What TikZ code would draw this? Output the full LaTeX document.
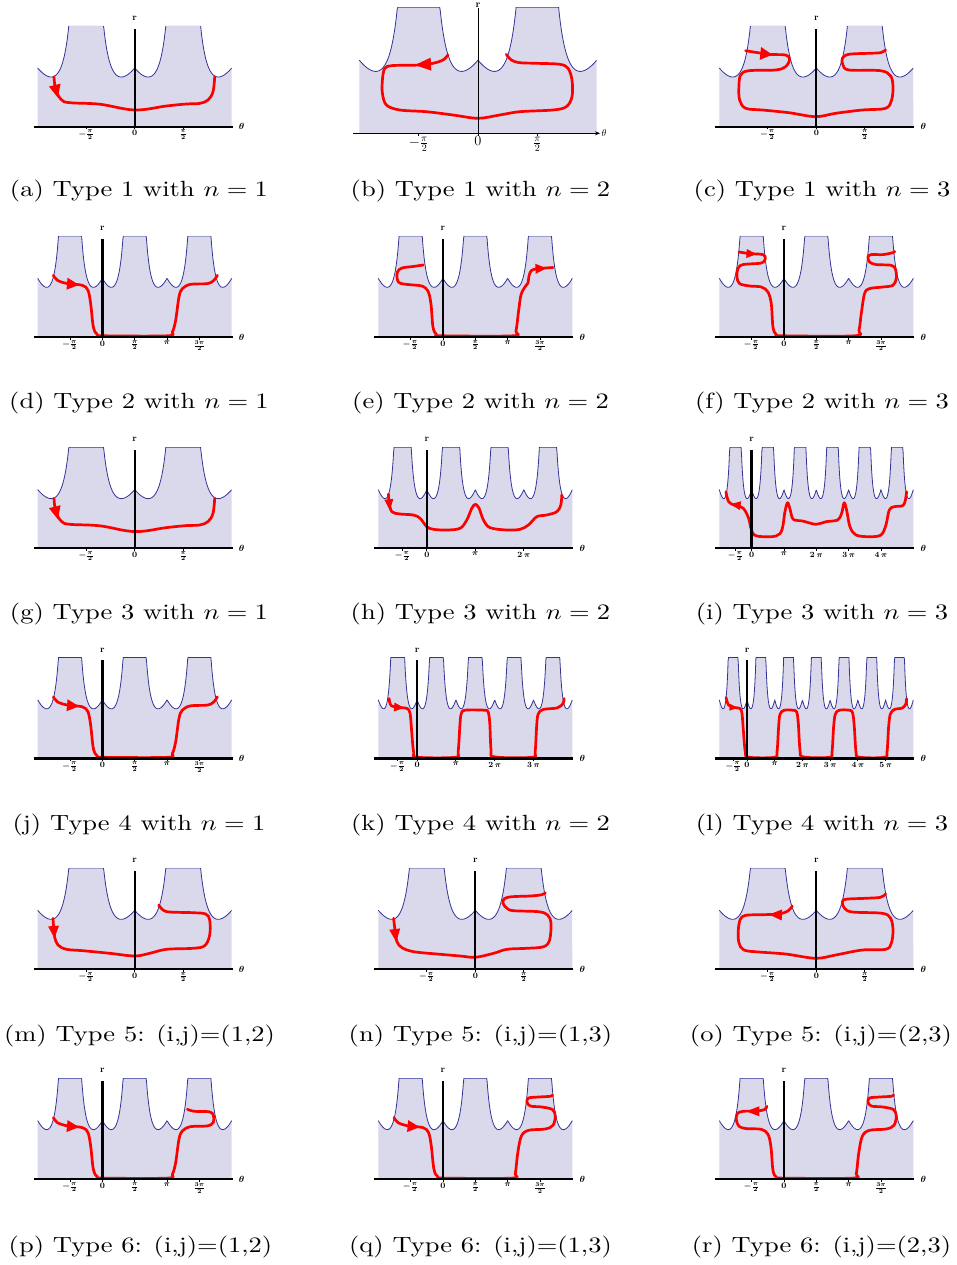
\documentclass[tikz,border=0pt]{standalone}
\usepackage{amsmath}
\usepackage{graphicx}
\usetikzlibrary{arrows.meta}

\definecolor{wellfill}{RGB}{217,217,235}
\definecolor{potblue}{RGB}{52,52,150}
\definecolor{orbitred}{RGB}{255,0,0}

\tikzset{
  declare function={pot(\t)=58.7-36.3*abs(sin(\t r))+29.1*(sin(\t r))^2/max((cos(\t r))^2,0.02);},
  potline/.style={draw=potblue, line width=0.8pt},
  axisline/.style={draw=black, line width=2.3pt},
  thinaxis/.style={draw=black, line width=0.7pt},
  tickline/.style={draw=black, line width=0.9pt},
  orbitline/.style={draw=orbitred, line width=2.7pt, line cap=round, line join=round},
  ticklab/.style={font=\fontsize{8.3}{9}\selectfont\bfseries\boldmath, inner sep=0pt, anchor=north},
  axlab/.style={font=\fontsize{9.5}{10}\selectfont\bfseries\boldmath, inner sep=0pt},
  biglab/.style={font=\fontsize{14}{15}\selectfont, inner sep=0pt},
  caption/.style={font=\fontsize{10}{12}\selectfont, inner sep=0pt, anchor=base},
}
\newcommand\capt[1]{\scalebox{2.65}[2.2]{#1}}

% panel geometry: left edge, axis height, periods N (theta in [-pi, N pi]), width, height scale
\newcommand\setpanel[5]{%
  \pgfmathsetmacro\sx{#4/((#3+1)*pi)}%
  \pgfmathsetmacro\ox{#1+pi*\sx}%
  \pgfmathsetmacro\hk{#5}%
  \pgfmathsetmacro\ctop{#5*pot(1.008)}%
  \pgfmathsetmacro\tmin{-pi}%
  \pgfmathsetmacro\tmax{#3*pi}%
  \def\oy{#2}%
}
% shaded allowed region under the potential, and the potential itself
\newcommand\wells{%
  \begin{scope}[shift={(\ox,-\oy)}]
    \fill[wellfill] plot[domain=\tmin:\tmax, samples=420] ({\x*\sx},{min(\hk*pot(\x),\ctop)})
      -- ({\tmax*\sx},0) -- ({\tmin*\sx},0) -- cycle;
    \begin{scope}
      \clip ({\tmin*\sx-1},-1) rectangle ({\tmax*\sx+1},{\ctop-0.5});
      \draw[potline] plot[domain=\tmin:\tmax, samples=420] ({\x*\sx},{min(\hk*pot(\x),\ctop)});
    \end{scope}
  \end{scope}}
% bold axes with small tick labels; ticks given in units of pi/2
\newcommand\stdaxes[1]{%
  \begin{scope}[shift={(\ox,-\oy)}]
    \draw[axisline] ({\tmin*\sx-4},0) -- ({\tmax*\sx+1},0);
    \draw[axisline] (0,0) -- (0,{\ctop-3});
    \foreach \p/\l in {#1} {
      \draw[tickline] ({\p*pi/2*\sx},0) -- ({\p*pi/2*\sx},-2.6);
      \node[ticklab] at ({\p*pi/2*\sx},-3.4) {\l};
    }
    \node[axlab] at (0,{\ctop+7.5}) {r};
    \node[axlab] at ({\tmax*\sx+10},0) {$\theta$};
  \end{scope}}
\newcommand\orbit[1]{\begin{scope}[shift={(\ox,-\oy)}]#1\end{scope}}
% arrow head: tip x, tip y, direction, length, width
\newcommand\tip[5]{\fill[orbitred, shift={(#1,#2)}, rotate=#3] (0,0) -- (-#4,{#5/2}) -- (-#4,{-#5/2}) -- cycle;}

\def\lmh{$-\frac{\pi}{2}$}
\def\lph{$\frac{\pi}{2}$}
\def\ltph{$\frac{3\pi}{2}$}
\def\lp{$\pi$}
\def\ltwo{$2\,\pi$}
\def\lthree{$3\,\pi$}
\def\lfour{$4\,\pi$}
\def\lfive{$5\,\pi$}

\begin{document}
\begin{tikzpicture}[x=1pt,y=1pt]
\useasboundingbox (0,0) rectangle (956,-1265);
\fill[white] (0,0) rectangle (956,-1265);

% ---------- (a) ----------
\setpanel{37.7}{126.7}{1}{194}{1}
\wells
\orbit{
  \draw[orbitline] plot[smooth,tension=0.6] coordinates {(-80.7,50) (-79,37) (-73.3,27) (-65,24) (-35,22.5) (0,16.7) (31.7,20.7) (51.7,22.7) (65,23.3) (73.3,26.7) (78.3,35) (80,50)};
  \tip{-76.8}{29}{-76}{13}{12}
}
\stdaxes{-1/\lmh, 0/0, 1/\lph}

% ---------- (b) ----------
\setpanel{359.3}{133.3}{1}{237.4}{1.246}
\wells
\orbit{
  \draw[orbitline] plot[smooth,tension=0.55] coordinates {(-30,78.3) (-35,73.3) (-45,70) (-58.3,68.3) (-75,68) (-86.6,67.6) (-93.3,65) (-95.6,53.3) (-95.6,40) (-91.6,28.3) (-78.3,23.3) (-51.6,21.6) (-25,18.3) (0,15) (21.7,18.3) (41.7,21.6) (75,23.3) (88.3,26.6) (94,36.6) (94,53.3) (90,65) (81.7,69) (58.3,70) (41.7,70.6) (33.3,73.3) (28.3,79)};
  \tip{-63}{68.3}{183}{16}{13}
  \draw[thinaxis, -{Stealth[length=5pt,width=4pt]}] (-125,0) -- (122,0);
  \draw[thinaxis] (0,0) -- (0,125);
  \foreach \p/\l in {-59.35/{$-\frac{\pi}{2}$}, 0/{$0$}, 59.35/{$\frac{\pi}{2}$}} {
    \draw[thinaxis] (\p,0) -- (\p,-2.5);
    \node[biglab, anchor=north] at (\p,-3.2) {\l};
  }
  \node[font=\fontsize{10}{11}\selectfont\bfseries, inner sep=0pt] at (0,128.5) {r};
  \node[font=\fontsize{10}{11}\selectfont, inner sep=0pt] at (126,0) {$\theta$};
}

% ---------- (c) ----------
\setpanel{719.3}{126.7}{1}{194}{1}
\wells
\orbit{
  \draw[orbitline] plot[smooth,tension=0.55] coordinates {(-70.7,76) (-47.4,72.4) (-30.7,71.7) (-26.7,67.4) (-30.7,60) (-40.7,56.7) (-67.4,56) (-75.7,51.7) (-77.4,40) (-76.7,26.7) (-70.7,18.4) (-54,16.7) (-27.4,14) (-0.7,10) (19.3,13.4) (46,16.7) (69.3,18.4) (75.3,26.7) (76.7,40) (74.3,50.7) (64.3,56) (32.6,56.7) (26.7,61.7) (26,68.4) (32.6,72.4) (52.7,73.4) (64.3,74) (69.3,76.7)};
  \tip{-44}{72}{-6}{12}{13}
}
\stdaxes{-1/\lmh, 0/0, 1/\lph}

% ---------- (d) ----------
\setpanel{37.7}{337}{2}{194}{1}
\wells
\orbit{
  \draw[orbitline] plot[smooth,tension=0.55] coordinates {(-49,61.7) (-45,56.7) (-35,53.4) (-20,51.7) (-14.4,46.7) (-11.7,33.4) (-9,10) (-5,2.4) (1.6,1.2) (65,1.2) (70,5) (73.3,16.7) (76.6,40) (80,48.4) (88.3,52.7) (105,53.4) (111.6,56.7) (115,61.7)};
  \tip{-23.4}{52.2}{-5}{12}{12}
}
\stdaxes{-1/\lmh, 0/0, 1/\lph, 2/\lp, 3/\ltph}

% ---------- (e) ----------
\setpanel{378.3}{337}{2}{194}{1}
\wells
\orbit{
  \draw[orbitline] plot[smooth,tension=0.55] coordinates {(-19.6,72) (-30,70.5) (-41,69) (-45.5,65) (-45.5,57) (-42,53.5) (-30,52) (-21,51) (-15,46) (-12,33) (-10,10) (-6.5,2.4) (-1,1.2) (70,1.2) (73,6) (75.5,25) (78,42) (82,50) (85,54) (86,61) (88.5,66.5) (95,68.3) (110,69.5)};
  \tip{103.5}{68.8}{3}{11}{10}
}
\stdaxes{-1/\lmh, 0/0, 1/\lph, 2/\lp, 3/\ltph}

% ---------- (f) ----------
\setpanel{719.3}{337}{2}{194}{1}
\wells
\orbit{
  \draw[orbitline] plot[smooth,tension=0.55] coordinates {(-45,85) (-34.4,83.4) (-21,82.4) (-18.7,78.4) (-22.7,74) (-41,72.4) (-46,68.4) (-47,60) (-44.4,53.4) (-34.4,51) (-22.7,50) (-16,45) (-12.7,33.4) (-11,10) (-7.7,2.4) (-1,1.2) (70.6,1.2) (75,6.7) (77.3,23.4) (80.6,43.4) (85.6,48.4) (99,50) (109,51.7) (112.3,58.4) (111.6,67.4) (107.3,71.7) (92.3,72.4) (85.6,75) (84,80) (87.3,82.4) (99,82.4) (109,84.4) (110.6,85.7)};
  \tip{-27.5}{82.8}{-4}{10}{9}
}
\stdaxes{-1/\lmh, 0/0, 1/\lph, 2/\lp, 3/\ltph}

% ---------- (g) ----------
\setpanel{37.7}{548.3}{1}{194}{1}
\wells
\orbit{
  \draw[orbitline] plot[smooth,tension=0.6] coordinates {(-80.7,50) (-79,37) (-73.3,27) (-65,24) (-35,22.5) (0,16.7) (31.7,20.7) (51.7,22.7) (65,23.3) (73.3,26.7) (78.3,35) (80,50)};
  \tip{-76.8}{29}{-76}{13}{12}
}
\stdaxes{-1/\lmh, 0/0, 1/\lph}

% ---------- (h) ----------
\setpanel{378.3}{548.3}{3}{194}{1}
\wells
\orbit{
  \draw[orbitline] plot[smooth,tension=0.55] coordinates {(-38.4,54.3) (-37.7,46.6) (-35,36.6) (-26.7,34.3) (-13.4,33.3) (-6.7,30) (0,21.6) (6.6,19) (20,18.3) (33.3,20) (40,28.3) (45,40) (48.6,44) (52.3,40) (56.6,28.3) (63.3,20.6) (80,18.3) (93.3,19) (101.6,23.3) (110,31.6) (120,33.3) (130,36.6) (134,43.3) (135,53.3)};
  \tip{-37}{38}{-85}{11}{9}
}
\stdaxes{-1/\lmh, 0/0, 2/\lp, 4/\ltwo}

% ---------- (i) ----------
\setpanel{719.3}{548.3}{5}{194}{1}
\wells
\orbit{
  \draw[orbitline] plot[smooth,tension=0.55] coordinates {(-25.7,56.6) (-23,46.6) (-17.4,43.3) (-8.4,40) (-3,30) (-0.7,20) (2.6,13.3) (11,11.6) (24.3,12.3) (30.3,18.3) (33.3,36.6) (36,45.6) (38.6,38.3) (41.6,29) (51,27.3) (64.3,24) (74.3,26.6) (86,28.3) (90,35) (92.6,45.6) (95.3,36.6) (98.3,21.6) (104.3,13.3) (117.6,11.6) (129.3,13.3) (134.3,23.3) (137.6,38.3) (142.6,41.6) (151,42.6) (153.6,47.6) (155,56.6)};
  \tip{-21}{44}{172}{10}{9}
}
\stdaxes{-1/\lmh, 0/0, 2/\lp, 4/\ltwo, 6/\lthree, 8/\lfour}

% ---------- (j) ----------
\setpanel{37.7}{758.5}{2}{194}{1}
\wells
\orbit{
  \draw[orbitline] plot[smooth,tension=0.55] coordinates {(-49,61.7) (-45,56.7) (-35,53.4) (-20,51.7) (-14.4,46.7) (-11.7,33.4) (-9,10) (-5,2.4) (1.6,1.2) (65,1.2) (70,5) (73.3,16.7) (76.6,40) (80,48.4) (88.3,52.7) (105,53.4) (111.6,56.7) (115,61.7)};
  \tip{-23.4}{52.2}{-5}{12}{12}
}
\stdaxes{-1/\lmh, 0/0, 1/\lph, 2/\lp, 3/\ltph}

% ---------- (k) ----------
\setpanel{378.3}{758.5}{4}{194}{1}
\wells
\orbit{
  \draw[orbitline] plot[smooth,tension=0.55] coordinates {(-28,60) (-26,53) (-18,51) (-10,50) (-7,45) (-5.5,28) (-3.5,6.6) (0,1.3) (38,1.2) (41,6.6) (42.7,31.6) (44,44.3) (48,48.3) (67,48.3) (71,46.6) (72.7,35) (74,8.3) (77.5,1.6) (115,1.2) (118,6.6) (119.5,31.6) (121,44.3) (126,49) (140,50.6) (146,55) (147,60)};
  \tip{-13}{50.6}{-5}{10}{9}
}
\stdaxes{-1/\lmh, 0/0, 2/\lp, 4/\ltwo, 6/\lthree}

% ---------- (l) ----------
\setpanel{719.3}{758.5}{6}{194}{1}
\wells
\orbit{
  \draw[orbitline] plot[smooth,tension=0.55] coordinates {(-21,61) (-18.3,53.3) (-12.7,51) (-7,50) (-5,45) (-3.7,28.3) (-1.7,6.6) (1.6,1.3) (27.3,1.2) (30,6.6) (31.6,31.6) (33,44.3) (37.3,48.3) (45.6,48.3) (49.6,46.6) (51.3,35) (53,8.3) (56.3,1.6) (82.3,1.2) (85,6.6) (86.6,31.6) (88.3,44.3) (92.3,48.3) (102.3,48.3) (105.6,45.6) (107.3,31.6) (109,6.6) (112.3,1.3) (137.3,1.2) (140,6.6) (141.6,31.6) (143.3,44.3) (147.3,49) (155.6,50.6) (159,55) (159.6,60)};
  \tip{-9.5}{50.6}{-5}{8}{7}
}
\stdaxes{-1/\lmh, 0/0, 2/\lp, 4/\ltwo, 6/\lthree, 8/\lfour, 10/\lfive}

% ---------- (m) ----------
\setpanel{37.7}{969}{1}{194}{1}
\wells
\orbit{
  \draw[orbitline] plot[smooth,tension=0.55] coordinates {(-81.7,50.7) (-81,40.7) (-80,31.7) (-76.7,24) (-68.3,19.7) (-51.7,18.3) (-25,15.7) (0,13) (15,15.7) (31.7,19.7) (58.3,20.7) (70,23.3) (75,34) (75,49) (71,55) (58.3,56.3) (35,57) (28.3,59) (24,64)};
  \tip{-80.3}{31}{-86}{12}{11}
}
\stdaxes{-1/\lmh, 0/0, 1/\lph}

% ---------- (n) ----------
\setpanel{378.3}{969}{1}{194}{1}
\wells
\orbit{
  \draw[orbitline] plot[smooth,tension=0.55] coordinates {(-81.7,50.7) (-80.3,39) (-78.3,27.3) (-73.3,21.3) (-61.7,17.3) (-38.3,15) (-15,13) (0,11.7) (18.3,15.7) (31.7,19.7) (51.7,20.7) (68.3,22.3) (74.3,29) (75.7,45.7) (72.3,54) (63.3,57.3) (38.3,58.3) (31.7,60.7) (27.7,65.7) (29,70.3) (36.7,72.3) (55,73) (66.7,74.3) (70,76.3)};
  \tip{-79}{27}{-83}{13}{11}
}
\stdaxes{-1/\lmh, 0/0, 1/\lph}

% ---------- (o) ----------
\setpanel{719.3}{969}{1}{194}{1}
\wells
\orbit{
  \draw[orbitline] plot[smooth,tension=0.55] coordinates {(-24,63) (-28,58.3) (-37.4,55) (-54,54.3) (-70.7,53.7) (-76,49.7) (-78,39) (-77.4,26.3) (-72.4,19) (-57.4,17) (-30.7,15) (-0.7,10.7) (19.3,14) (46,19) (69.3,19.7) (75,25.7) (76.7,39) (74.3,50.7) (66,55.7) (36,57) (28.3,60.7) (26,66.3) (29.3,69.7) (49.3,70.7) (64.3,71.7) (69.3,75)};
  \tip{-47.4}{54.5}{178}{13}{11}
}
\stdaxes{-1/\lmh, 0/0, 1/\lph}

% ---------- (p) ----------
\setpanel{37.7}{1179.3}{2}{194}{1}
\wells
\orbit{
  \draw[orbitline] plot[smooth,tension=0.55] coordinates {(-49,61.7) (-45,56.7) (-35,53.4) (-20,51.7) (-14.4,46.7) (-11.7,33.4) (-9,10) (-5,2.4) (1.6,1.2) (65,1.2) (70,5) (73.3,16.7) (76.6,40) (80,48.4) (88.3,52.7) (105,53.4) (111,57) (111,64) (107,67.5) (92,68) (85,70)};
  \tip{-23.4}{52.2}{-5}{12}{12}
}
\stdaxes{-1/\lmh, 0/0, 1/\lph, 2/\lp, 3/\ltph}

% ---------- (q) ----------
\setpanel{378.3}{1179.3}{2}{194}{1}
\wells
\orbit{
  \draw[orbitline] plot[smooth,tension=0.55] coordinates {(-49,61.7) (-45,56.7) (-35,53.4) (-20,51.7) (-14.4,46.7) (-11.7,33.4) (-9,10) (-5,2.4) (1.6,1.2) (69,1.2) (72.3,5.7) (74.7,25.7) (78.3,43) (85.6,49) (102.3,50.3) (110,54) (112.3,63) (109.6,69.7) (99,72.3) (87.3,73.3) (84,77.3) (85.6,81.3) (95.6,82.3) (107.3,83) (109.6,84.3)};
  \tip{-23.4}{52.2}{-5}{12}{12}
}
\stdaxes{-1/\lmh, 0/0, 1/\lph, 2/\lp, 3/\ltph}

% ---------- (r) ----------
\setpanel{719.3}{1179.3}{2}{194}{1}
\wells
\orbit{
  \draw[orbitline] plot[smooth,tension=0.55] coordinates {(-17,73) (-19.4,69.7) (-27.7,68.3) (-41,68) (-46.7,65.7) (-47.7,59.7) (-45,53) (-37.7,50.7) (-22.7,50) (-16,45) (-13,32.3) (-11,9) (-7.7,2.3) (-1,1.2) (69,1.2) (72.3,5.7) (74.7,25.7) (78.3,43) (85.6,49) (102.3,50.3) (110,54) (112.3,63) (109.6,69.7) (99,72.3) (87.3,73.3) (84,77.3) (85.6,81.3) (95.6,82.3) (107.3,83) (109.6,84.3)};
  \tip{-37.7}{68}{180}{13}{10}
}
\stdaxes{-1/\lmh, 0/0, 1/\lph, 2/\lp, 3/\ltph}

% ---------- captions ----------
\node[caption] (capa) at (139,-197) {\capt{(a) Type 1 with $n=1$}};
\node[caption] (capb) at (480.5,-197) {\capt{(b) Type 1 with $n=2$}};
\node[caption] (capc) at (822,-197) {\capt{(c) Type 1 with $n=3$}};
\node[caption] (capd) at (139,-408) {\capt{(d) Type 2 with $n=1$}};
\node[caption] (cape) at (480.5,-408) {\capt{(e) Type 2 with $n=2$}};
\node[caption] (capf) at (822,-408) {\capt{(f) Type 2 with $n=3$}};
\node[caption] (capg) at (139,-619) {\capt{(g) Type 3 with $n=1$}};
\node[caption] (caph) at (480.5,-619) {\capt{(h) Type 3 with $n=2$}};
\node[caption] (capi) at (822,-619) {\capt{(i) Type 3 with $n=3$}};
\node[caption] (capj) at (139,-830) {\capt{(j) Type 4 with $n=1$}};
\node[caption] (capk) at (480.5,-830) {\capt{(k) Type 4 with $n=2$}};
\node[caption] (capl) at (822,-830) {\capt{(l) Type 4 with $n=3$}};
\node[caption] (capm) at (139.5,-1041) {\capt{(m) Type 5: (i,j)=(1,2)}};
\node[caption] (capn) at (480.5,-1041) {\capt{(n) Type 5: (i,j)=(1,3)}};
\node[caption] (capo) at (821,-1041) {\capt{(o) Type 5: (i,j)=(2,3)}};
\node[caption] (capp) at (140.5,-1252) {\capt{(p) Type 6: (i,j)=(1,2)}};
\node[caption] (capq) at (480.5,-1252) {\capt{(q) Type 6: (i,j)=(1,3)}};
\node[caption] (capr) at (821.5,-1252) {\capt{(r) Type 6: (i,j)=(2,3)}};
\end{tikzpicture}
\end{document}
